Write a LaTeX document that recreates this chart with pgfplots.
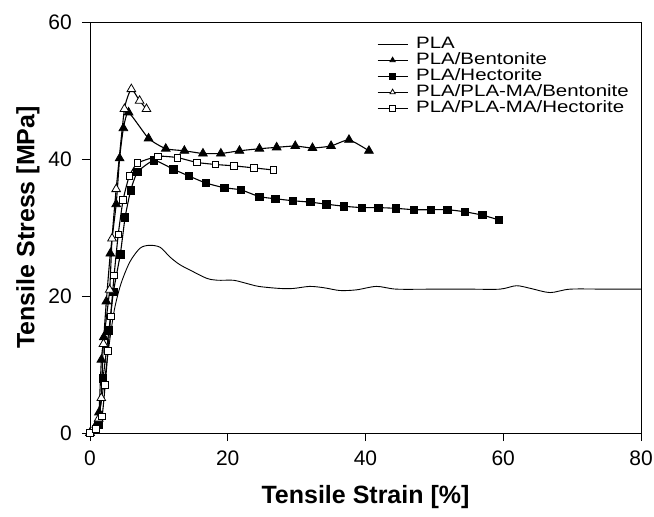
\documentclass[border=0pt]{standalone}
\usepackage{fontspec}
\setmainfont{Liberation Sans}
\newfontfamily\legfont[FakeStretch=1.24]{Liberation Sans}
\usepackage{pgfplots}
\pgfplotsset{compat=1.18}

\begin{document}
\begin{tikzpicture}
\begin{axis}[
 scale only axis, width=551bp, height=411bp,
 at={(0,0)}, anchor=south west,
 xmin=0, xmax=80, ymin=0, ymax=60,
 xtick={0,20,40,60,80}, ytick={0,20,40,60},
 tick pos=left, tick align=outside, major tick length=8bp,
 tick style={black, line width=0.8bp},
 axis line style={line width=0.8bp},
 /pgf/number format/assume math mode=true,
 ticklabel style={font=\fontsize{21bp}{25bp}\selectfont, inner sep=0pt},
 xticklabel style={anchor=north, yshift=-10bp},
 yticklabel style={anchor=east, xshift=-10bp},
 xlabel={Tensile Strain [\%]}, ylabel={Tensile Stress [MPa]},
 label style={font=\fontsize{25bp}{30bp}\selectfont\bfseries},
 xlabel style={at={(axis description cs:0.5,-0.1557)}, anchor=center},
 ylabel style={at={(axis description cs:-0.1125,0.5)}, anchor=center},
 legend style={draw=none, fill=none, font=\legfont\fontsize{16.5bp}{16bp}\selectfont,
   at={(axis description cs:1,1)}, anchor=north east, xshift=-12bp, yshift=-14bp,
   inner sep=0pt, row sep=0pt,
   nodes={inner sep=0pt, text height=12bp, text depth=4bp},
   /tikz/every odd column/.append style={column sep=8bp}},
 legend cell align=left,
 legend image code/.code={\draw[mark repeat=2,mark phase=2,#1] plot coordinates {(0bp,0bp) (15bp,0bp) (30bp,0bp)};},
 legend image post style={mark size=3bp},
]
% PLA
\addplot[black, line width=0.9bp, smooth, tension=0.5] coordinates {
(0,0) (1,1) (2,7) (3,14.5) (3.6,18.3) (4.5,21.8) (5.8,25) (7.3,27) (8.7,27.4) (10.2,27.1)
(11.6,25.7) (13,24.6) (14.5,23.8) (16.9,22.6) (18.5,22.3) (20.8,22.3) (22.5,21.9) (24.5,21.4)
(27.6,21.1) (29.5,21.1) (31.9,21.4) (34,21.2) (36.3,20.8) (38.7,20.9) (41.6,21.4) (44.5,21.0)
(50,21) (55,21) (59.5,21) (61.9,21.5) (64,21.1) (66.8,20.5) (69.7,21) (75,21) (80,21)};
\addlegendentry{PLA}
% PLA/Bentonite
\addplot[black, line width=1.1bp, smooth, tension=0.3, mark=triangle*, mark size=5bp,
 mark options={solid, line width=0.8bp}] coordinates {
(0,0) (0.9,1.2) (1.3,3) (1.65,10.7) (2.0,14) (2.37,19.2) (2.95,26.2) (3.8,33.4) (4.3,40.1)
(4.85,44.5) (5.6,46.8) (8.5,43) (11,41.5) (13.7,41.2) (16.4,40.8) (19,40.8) (21.7,41.2)
(24.6,41.5) (27.1,41.7) (29.8,41.9) (32.3,41.6) (35,41.9) (37.6,42.8) (40.5,41.2)};
\addlegendentry{PLA/Bentonite}
% PLA/Hectorite
\addplot[black, line width=1.1bp, smooth, tension=0.3, mark=square*, mark size=3.7bp,
 mark options={solid, line width=0.8bp}] coordinates {
(0,0) (1.2,1.2) (1.9,8) (2.75,15) (3.4,20.6) (4.4,26.1) (5.1,31.5) (5.9,35.4) (6.9,38.1)
(9.3,39.8) (12.1,38.5) (14.4,37.5) (16.8,36.5) (19.5,35.8) (21.9,35.5) (24.6,34.5) (26.9,34.2)
(29.5,33.9) (32,33.7) (34.35,33.4) (36.9,33.1) (39.5,32.9) (41.9,32.9) (44.4,32.8) (47,32.6)
(49.5,32.6) (51.9,32.6) (54.4,32.3) (57,31.8) (59.4,31.1)};
\addlegendentry{PLA/Hectorite}
% PLA/PLA-MA/Bentonite
\addplot[black, line width=1.1bp, smooth, tension=0.3, mark=triangle*, mark size=5bp,
 mark options={solid, fill=white, line width=0.8bp}] coordinates {
(0,0) (0.7,0.4) (1.26,2.1) (1.64,5.1) (1.95,13) (2.85,20.9) (3.2,28.4) (3.8,35.6) (5,47.3)
(6,50.2) (7.2,48.5) (8.2,47.3)};
\addlegendentry{PLA/PLA-MA/Bentonite}
% PLA/PLA-MA/Hectorite
\addplot[black, line width=1.1bp, smooth, tension=0.3, mark=square*, mark size=3.3bp,
 mark options={solid, fill=white, line width=0.8bp}] coordinates {
(0,0) (0.9,0.6) (1.75,2.4) (2.2,7) (2.6,12) (3.0,17) (3.5,23) (4.1,29) (4.8,34) (5.7,37.5)
(6.9,39.4) (9.9,40.4) (12.7,40.2) (15.5,39.5) (18.2,39.2) (20.9,39.0) (23.8,38.7) (26.6,38.4)};
\addlegendentry{PLA/PLA-MA/Hectorite}
\end{axis}
\path (-90bp,-84bp) rectangle (564bp,433bp);
\end{tikzpicture}
\end{document}
